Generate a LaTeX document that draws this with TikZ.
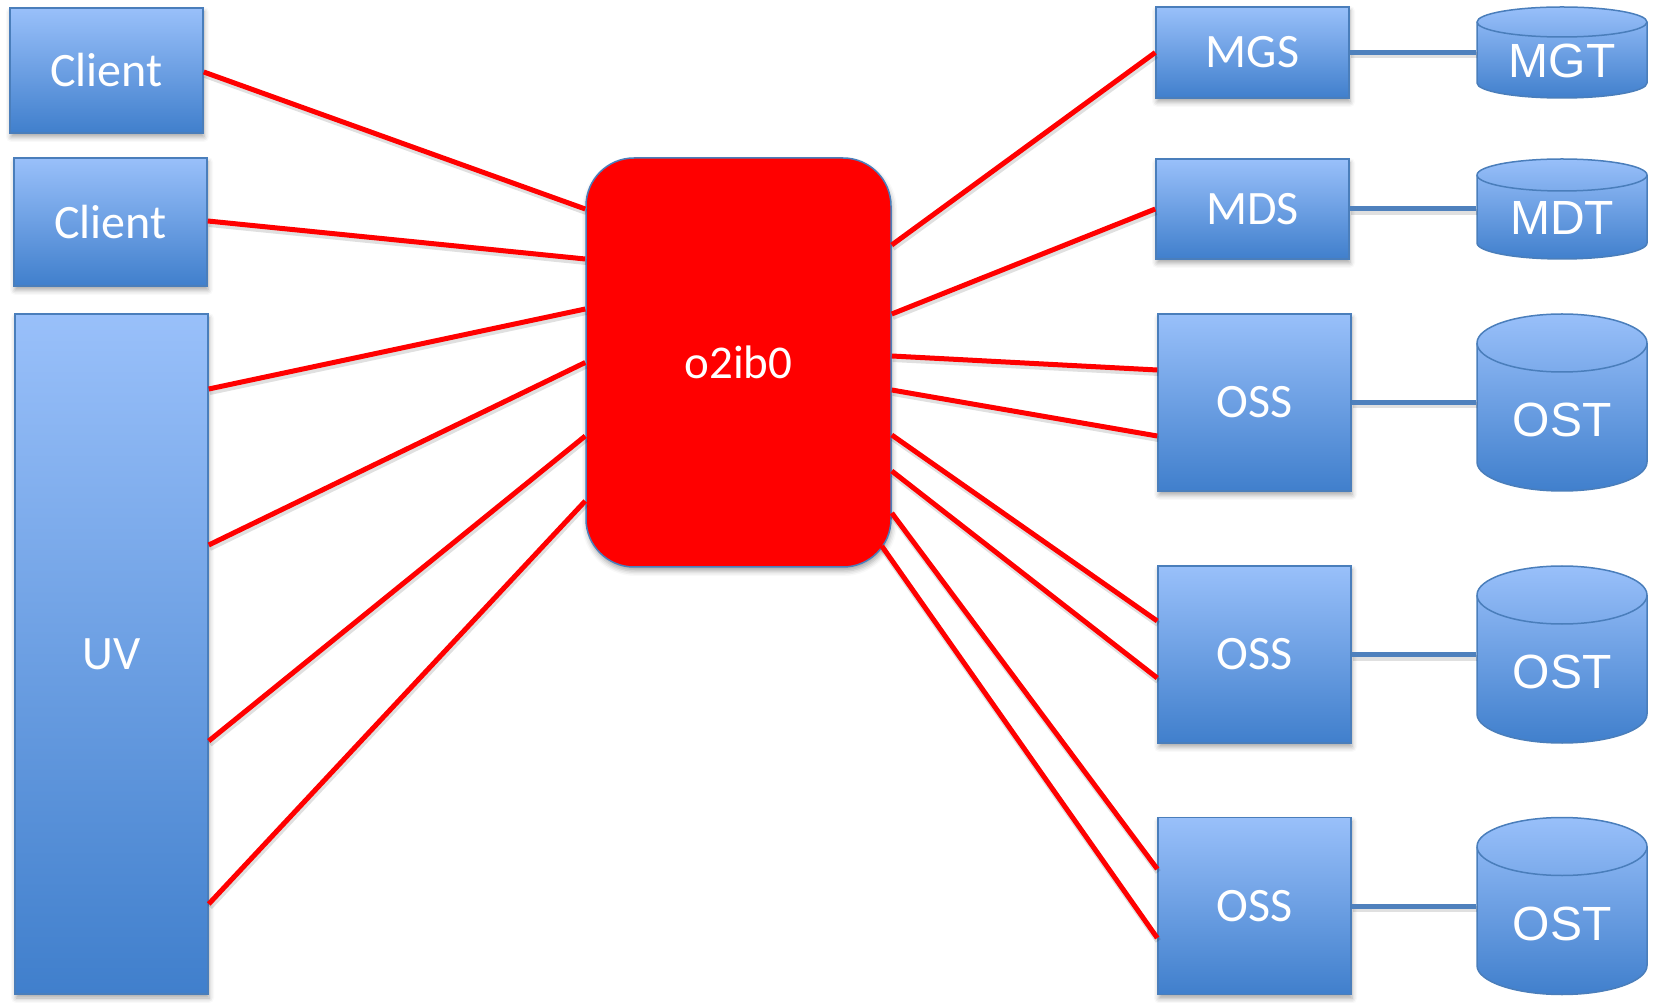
\documentclass[tikz,border=0pt]{standalone}
\usepackage{fontspec}
\newfontfamily\boxfont{Carlito}
\newfontfamily\drumfont{Liberation Sans}
\usetikzlibrary{shadows.blur}
\definecolor{edgeblue}{RGB}{74,126,187}
\definecolor{boxtop}{RGB}{153,192,250}
\definecolor{boxbot}{RGB}{64,127,204}
\definecolor{linkblue}{RGB}{79,129,189}
\definecolor{netred}{RGB}{255,0,0}
\tikzset{
  softshadow/.style={blur shadow={shadow xshift=1pt, shadow yshift=-4pt,
      shadow blur radius=5pt, shadow opacity=35}},
  lineshadow/.style={preaction={draw=black, draw opacity=0.12, line width=6pt,
      transform canvas={shift={(1pt,-3pt)}}}},
  server/.style={rectangle, draw=edgeblue, line width=1.5pt,
      top color=boxtop, bottom color=boxbot, inner sep=0pt, text=white,
      font=\boxfont\fontsize{48}{58}\selectfont, softshadow},
  hub/.style={rectangle, rounded corners=48pt, fill=netred, draw=edgeblue,
      line width=1.5pt, inner sep=0pt, text=white,
      font=\boxfont\fontsize{47}{56}\selectfont, softshadow},
  drum/.style={rectangle, inner sep=0pt, text=white,
      minimum width=172pt, text depth=0pt,
      font=\drumfont\fontsize{48}{58}\selectfont,
      path picture={
        \shade[top color=boxtop, bottom color=boxbot]
          ([shift={(1pt,-#1pt-1pt)}]path picture bounding box.north west)
          -- ([shift={(1pt,#1pt+1pt)}]path picture bounding box.south west)
          arc[start angle=180, end angle=360, x radius=85pt, y radius=#1pt]
          -- ([shift={(-1pt,-#1pt-1pt)}]path picture bounding box.north east)
          arc[start angle=0, end angle=180, x radius=85pt, y radius=#1pt]
          -- cycle;
        \draw[edgeblue, line width=1.5pt]
          ([shift={(1pt,-#1pt-1pt)}]path picture bounding box.north west)
          -- ([shift={(1pt,#1pt+1pt)}]path picture bounding box.south west)
          arc[start angle=180, end angle=360, x radius=85pt, y radius=#1pt]
          -- ([shift={(-1pt,-#1pt-1pt)}]path picture bounding box.north east)
          arc[start angle=0, end angle=180, x radius=85pt, y radius=#1pt]
          -- cycle;
        \draw[edgeblue, line width=1.5pt]
          ([shift={(1pt,-#1pt-1pt)}]path picture bounding box.north west)
          arc[start angle=180, end angle=360, x radius=85pt, y radius=#1pt];
      }},
  net/.style={lineshadow, netred, line width=5pt},
  tie/.style={lineshadow, linkblue, line width=5pt},
}
\begin{document}
\begin{tikzpicture}[x=1pt, y=1pt]
\useasboundingbox (0,0) rectangle (1653,1002);

% left side: clients and UV
\node[server, minimum width=193pt, minimum height=125pt] (client1) at (106.5,931.5) {Client};
\node[server, minimum width=193pt, minimum height=128pt] (client2) at (110.5,780) {Client};
\node[server, minimum width=193pt, minimum height=680pt] (uv) at (111.5,348) {UV};

% fabric
\node[hub, minimum width=305pt, minimum height=409pt] (hub) at (738.5,639.5) {o2ib0};

% servers
\node[server, minimum width=193pt, minimum height=91pt] (mgs) at (1252.5,949.5) {MGS};
\node[server, minimum width=193pt, minimum height=100pt] (mds) at (1252.5,793) {MDS};
\node[server, minimum width=193pt, minimum height=177pt] (oss1) at (1254.5,599.5) {OSS};
\node[server, minimum width=193pt, minimum height=177pt] (oss2) at (1254.5,347.5) {OSS};
\node[server, minimum width=193pt, minimum height=177pt] (oss3) at (1254.5,96) {OSS};

% targets (text height pushes the label below the drum's top face)
\node[drum=15, text height=51pt, minimum height=93pt] (mgt) at (1562,949.5) {MGT};
\node[drum=16, text height=52pt, minimum height=102pt] (mdt) at (1562,793) {MDT};
\node[drum=29, text height=68pt, minimum height=179pt] (ost1) at (1562,599.5) {OST};
\node[drum=29, text height=68pt, minimum height=179pt] (ost2) at (1562,347.5) {OST};
\node[drum=29, text height=68pt, minimum height=179pt] (ost3) at (1562,96) {OST};

% server to target links
\draw[tie] (mgs.east) -- (mgt.west);
\draw[tie] (mds.east) -- (mdt.west);
\draw[tie] (oss1.east) -- (ost1.west);
\draw[tie] (oss2.east) -- (ost2.west);
\draw[tie] (oss3.east) -- (ost3.west);

% network links, left
\draw[net] ([yshift=-1.5pt]client1.east) -- ([yshift=153.5pt]hub.west);
\draw[net] ([yshift=1pt]client2.east) -- ([yshift=103.5pt]hub.west);
\draw[net] ([yshift=265pt]uv.east) -- ([yshift=53.5pt]hub.west);
\draw[net] ([yshift=109pt]uv.east) -- ([yshift=0pt]hub.west);
\draw[net] ([yshift=-87pt]uv.east) -- ([yshift=-73.5pt]hub.west);
\draw[net] ([yshift=-250pt]uv.east) -- ([yshift=-138.5pt]hub.west);

% network links, right
\draw[net] ([yshift=117.5pt]hub.east) -- (mgs.west);
\draw[net] ([yshift=48.5pt]hub.east) -- (mds.west);
\draw[net] ([yshift=6.5pt]hub.east) -- ([yshift=32.5pt]oss1.west);
\draw[net] ([yshift=-27.5pt]hub.east) -- ([yshift=-33.5pt]oss1.west);
\draw[net] ([yshift=-72.5pt]hub.east) -- ([yshift=33.5pt]oss2.west);
\draw[net] ([yshift=-108.5pt]hub.east) -- ([yshift=-23.5pt]oss2.west);
\draw[net] ([yshift=-150.5pt]hub.east) -- ([yshift=37pt]oss3.west);
\draw[net] ([shift={(-10pt,-183.5pt)}]hub.east) -- ([yshift=-32pt]oss3.west);
\end{tikzpicture}
\end{document}
